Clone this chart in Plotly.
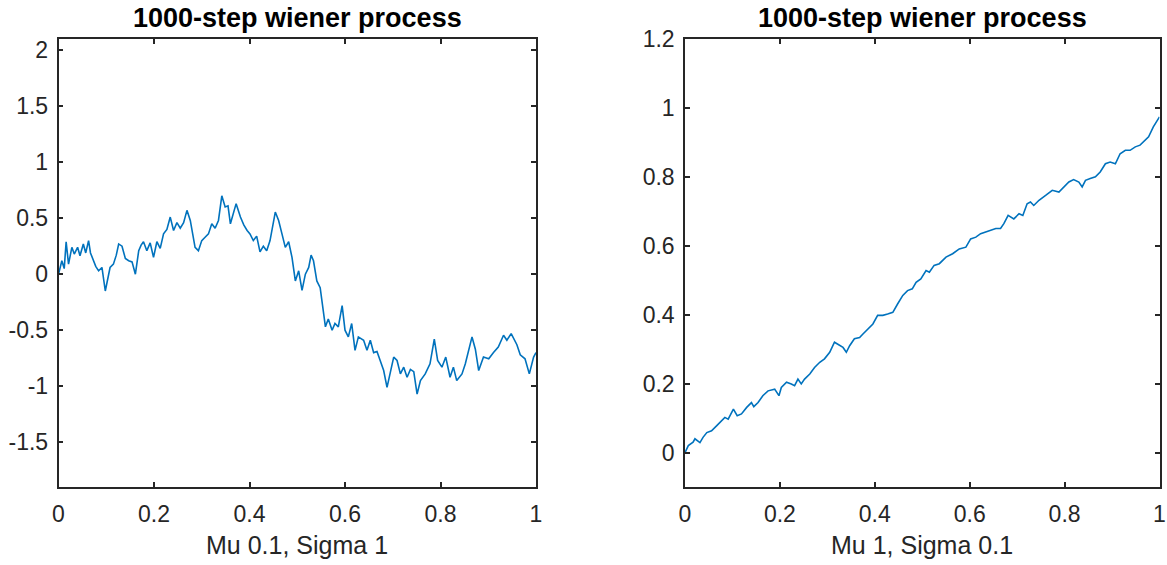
import plotly.graph_objects as go

# ---- data ----
left_x = [0, .007, .012, .016, .021, .028, .033, .040, .045, .052, .057, .063, .067, .073, .078, .084, .091, .098,
          .104, .108, .115, .121, .126, .133, .140, .147, .154, .161, .168, .173, .178, .185, .192, .199, .206, .213,
          .220, .227, .234, .241, .248, .255, .262, .269, .276, .286, .293, .300, .307, .314, .321, .328, .335, .342,
          .349, .355, .360, .367, .372, .381, .388, .395, .401, .408, .415, .422, .429, .436, .443, .454, .461, .468,
          .475, .482, .489, .496, .503, .510, .517, .524, .529, .534, .541, .548, .559, .565, .573, .579, .586, .594,
          .600, .607, .614, .621, .628, .639, .646, .653, .660, .667, .674, .681, .688, .695, .702, .709, .716, .723,
          .730, .737, .744, .751, .758, .768, .778, .787, .794, .803, .811, .820, .827, .834, .845, .852, .866, .873,
          .880, .890, .901, .911, .921, .932, .939, .948, .960, .967, .977, .986, .995, 1.0]
left_y = [0, .12, .05, .29, .09, .24, .18, .24, .165, .27, .19, .30, .19, .12, .07, .03, .06, -.15,
          -.02, .06, .09, .17, .27, .25, .14, .12, .11, 0.0, .21, .26, .29, .21, .28, .15, .29, .23,
          .36, .40, .51, .39, .46, .41, .46, .57, .48, .24, .21, .30, .33, .36, .45, .41, .48, .70,
          .60, .61, .45, .57, .63, .51, .44, .39, .36, .30, .34, .20, .25, .21, .30, .555, .48, .36,
          .24, .29, .15, -.06, .03, -.145, 0.0, .06, .17, .12, -.06, -.12, -.47, -.40, -.50, -.44, -.47, -.28,
          -.50, -.56, -.44, -.68, -.56, -.59, -.68, -.59, -.70, -.69, -.77, -.86, -1.01, -.86, -.74, -.77, -.89, -.83,
          -.92, -.85, -.87, -1.07, -.95, -.89, -.80, -.58, -.77, -.83, -.74, -.92, -.83, -.95, -.89, -.80, -.56, -.67,
          -.86, -.74, -.755, -.70, -.65, -.545, -.59, -.53, -.63, -.72, -.755, -.89, -.74, -.70]

right_x = [0, .007, .017, .021, .0315, .038, .046, .056, .067, .077, .084, .091, .102, .110, .119, .130, .140, .145,
           .154, .164, .175, .189, .198, .203, .214, .224, .231, .238, .245, .252, .263, .273, .284, .294, .305, .315,
           .326, .333, .340, .347, .357, .368, .375, .385, .396, .406, .417, .427, .438, .448, .459, .469, .479, .487,
           .497, .508, .515, .525, .536, .550, .564, .578, .592, .602, .613, .623, .634, .644, .655, .665, .672, .681,
           .693, .704, .712, .721, .728, .735, .746, .760, .774, .788, .798, .809, .819, .830, .837, .844, .854, .865,
           .875, .886, .896, .907, .917, .928, .938, .949, .959, .966, .977, .987, .998, 1.0]
right_y = [0, .02, .03, .04, .029, .044, .058, .063, .078, .092, .102, .097, .126, .107, .112, .131, .145, .133,
           .145, .165, .179, .184, .165, .189, .204, .199, .194, .213, .199, .213, .228, .247, .262, .272, .291, .32,
           .31, .305, .291, .31, .33, .334, .344, .359, .373, .398, .398, .402, .407, .431, .456, .47, .475, .494,
           .504, .528, .523, .543, .548, .567, .577, .591, .596, .62, .625, .635, .64, .645, .65, .65, .664, .688,
           .678, .693, .688, .722, .727, .717, .732, .746, .761, .756, .769, .785, .792, .785, .771, .79, .795, .80,
           .814, .838, .843, .838, .867, .877, .877, .887, .892, .901, .916, .945, .969, .974]

x_ticks = [0, 0.2, 0.4, 0.6, 0.8, 1]
x_ticktext = ["0", "0.2", "0.4", "0.6", "0.8", "1"]
left_yticks = [-1.5, -1, -0.5, 0, 0.5, 1, 1.5, 2]
left_yticktext = ["-1.5", "-1", "-0.5", "0", "0.5", "1", "1.5", "2"]
right_yticks = [0, 0.2, 0.4, 0.6, 0.8, 1, 1.2]
right_yticktext = ["0", "0.2", "0.4", "0.6", "0.8", "1", "1.2"]

titles = ["1000-step wiener process", "1000-step wiener process"]
xlabels = ["Mu 0.1, Sigma 1", "Mu 1, Sigma 0.1"]

W, H = 1167, 565
LINE = "#0072BD"
AX = "#262626"
FONT = "Liberation Sans, Arial, Helvetica, sans-serif"

fig = go.Figure()
fig.add_trace(go.Scatter(x=left_x, y=left_y, mode="lines", line=dict(color=LINE, width=1.6),
                         xaxis="x", yaxis="y", showlegend=False, hoverinfo="skip"))
fig.add_trace(go.Scatter(x=right_x, y=right_y, mode="lines", line=dict(color=LINE, width=1.6),
                         xaxis="x2", yaxis="y2", showlegend=False, hoverinfo="skip"))

common = dict(showline=True, linecolor=AX, linewidth=1.5, mirror="ticks", ticks="inside",
              ticklen=5, tickwidth=1.5, tickcolor=AX, showgrid=False, zeroline=False,
              automargin=False,
              tickfont=dict(family=FONT, size=23, color=AX), fixedrange=True)

dom_left = [58.5 / W, 536 / W]
dom_right = [685 / W, 1159.5 / W]
dom_y = [(H - 487) / H, (H - 39) / H]

fig.update_layout(
    width=W, height=H, margin=dict(l=0, r=0, t=0, b=0, autoexpand=False),
    paper_bgcolor="white", plot_bgcolor="white",
    xaxis=dict(domain=dom_left, range=[0, 1], tickvals=x_ticks, ticktext=x_ticktext,
               anchor="y", ticklabelstandoff=6, **common),
    yaxis=dict(domain=dom_y, range=[-1.9, 2.1], tickvals=left_yticks, ticktext=left_yticktext,
               anchor="x", ticklabelstandoff=4, **common),
    xaxis2=dict(domain=dom_right, range=[0, 1], tickvals=x_ticks, ticktext=x_ticktext,
                anchor="y2", ticklabelstandoff=6, **common),
    yaxis2=dict(domain=dom_y, range=[-0.1, 1.2], tickvals=right_yticks, ticktext=right_yticktext,
                anchor="x2", ticklabelstandoff=4, **common),
)

centers = [(dom_left[0] + dom_left[1]) / 2, (dom_right[0] + dom_right[1]) / 2]
for cx, t, xl in zip(centers, titles, xlabels):
    fig.add_annotation(text="<b>" + t + "</b>", x=cx, y=1 - 18 / H, xref="paper", yref="paper",
                       xanchor="center", yanchor="middle", showarrow=False,
                       font=dict(family=FONT, size=27, color="#000000"))
    fig.add_annotation(text=xl, x=cx, y=1 - 545 / H, xref="paper", yref="paper",
                       xanchor="center", yanchor="middle", showarrow=False,
                       font=dict(family=FONT, size=25, color=AX))

fig.write_html("out.html")
